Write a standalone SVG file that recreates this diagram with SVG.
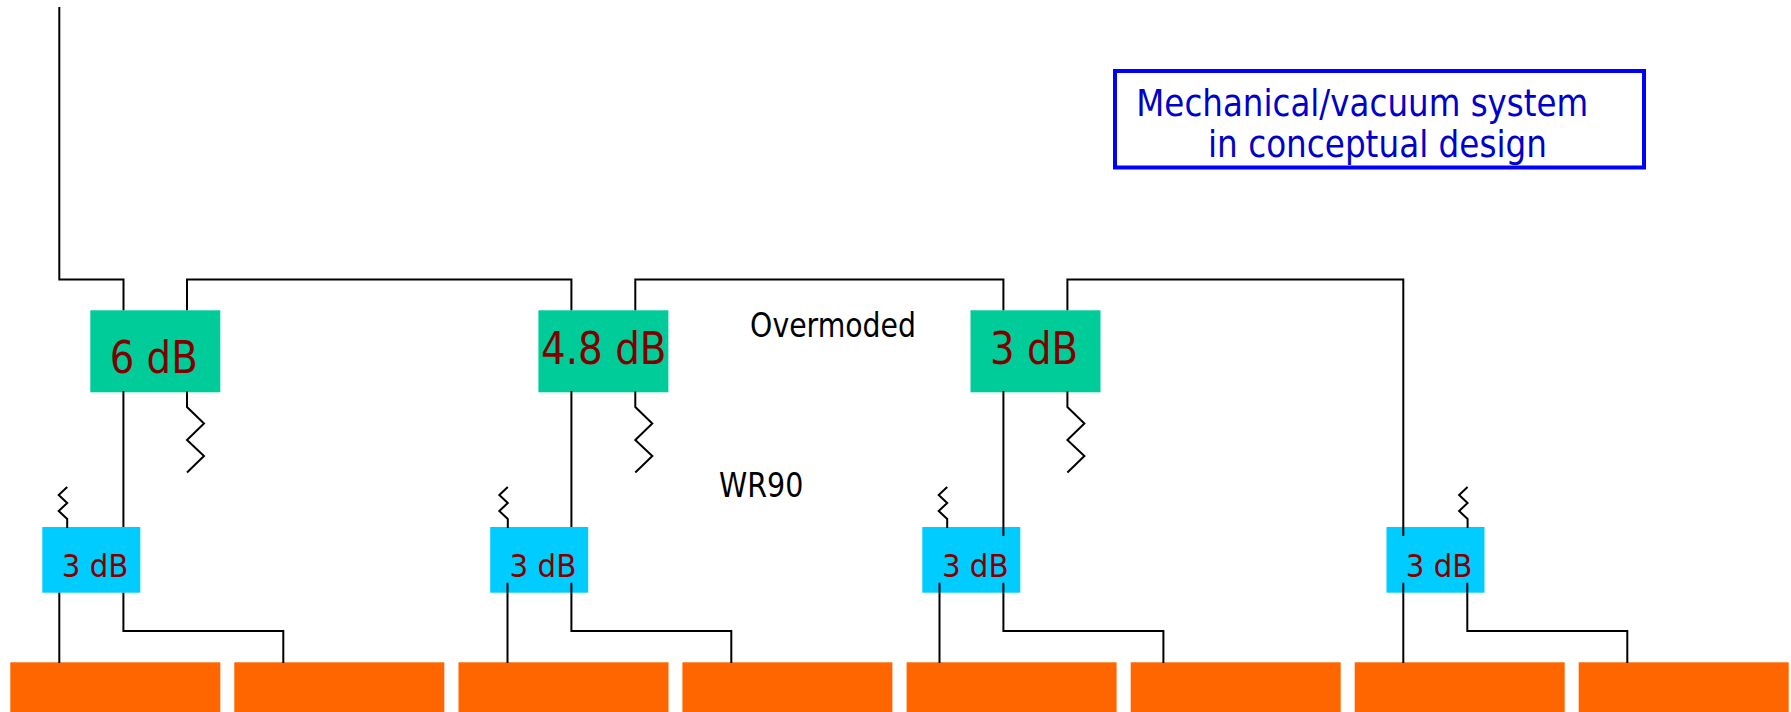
<svg xmlns="http://www.w3.org/2000/svg" width="1791" height="712" viewBox="0 0 1791 712">
<defs>
<style>
text{font-family:"DejaVu Sans","Liberation Sans",sans-serif}
.g{fill:#00cc99}
.b{fill:#00ccff}
.o{fill:#ff6600}
.big{font-size:44.500px;fill:#800000}
.small{font-size:32.500px;fill:#800000}
.lab{font-size:33px;fill:#000}
.note{font-size:37.500px;fill:#0000cc}
.c{fill:none;stroke:#000;stroke-width:2;stroke-linejoin:miter}
</style>
<path id="rl" d="M0 0V15.500L17 32L0 48.500L17 64.500L0 81"/>
<path id="rs" d="M0 0V-9L-8.500 -17L0 -25L-8.500 -33L0 -41"/>
</defs>
<rect width="1791" height="712" fill="#fff"/>
<g id="node-sp1"><rect class="g" x="90.300" y="310.300" width="130" height="82"/><text class="big" x="109.700" y="372.700" textLength="88" lengthAdjust="spacingAndGlyphs">6 dB</text></g>
<g id="node-sp2"><rect class="g" x="538.400" y="310.300" width="130" height="82"/><text class="big" x="541" y="364" textLength="125.500" lengthAdjust="spacingAndGlyphs">4.8 dB</text></g>
<g id="node-sp3"><rect class="g" x="970.500" y="310.300" width="130" height="82"/><text class="big" x="990" y="364" textLength="88" lengthAdjust="spacingAndGlyphs">3 dB</text></g>
<g id="node-h1"><rect class="b" x="42.300" y="527" width="98" height="65.700"/></g>
<g id="node-h2"><rect class="b" x="490.200" y="527" width="98" height="65.700"/></g>
<g id="node-h3"><rect class="b" x="922.300" y="527" width="98" height="65.700"/></g>
<g id="node-h4"><rect class="b" x="1386.500" y="527" width="98" height="65.700"/></g>
<g id="node-l1"><rect class="o" x="10.300" y="662.300" width="210" height="50"/></g>
<g id="node-l2"><rect class="o" x="234.300" y="662.300" width="210" height="50"/></g>
<g id="node-l3"><rect class="o" x="458.500" y="662.300" width="210" height="50"/></g>
<g id="node-l4"><rect class="o" x="682.400" y="662.300" width="210" height="50"/></g>
<g id="node-l5"><rect class="o" x="906.600" y="662.300" width="210" height="50"/></g>
<g id="node-l6"><rect class="o" x="1130.700" y="662.300" width="210" height="50"/></g>
<g id="node-l7"><rect class="o" x="1354.700" y="662.300" width="210" height="50"/></g>
<g id="node-l8"><rect class="o" x="1578.700" y="662.300" width="210" height="50"/></g>
<g id="connectors" class="c">
<path d="M59.300 7V279.500H123.500V310.300"/>
<path d="M187 310.300V279.500H571.400V310.300"/>
<path d="M635.300 310.300V279.500H1003.400V310.300"/>
<path d="M1067.400 310.300V279.500H1403.300V536"/>
<path d="M123.400 391V527"/>
<path d="M571.400 391V527"/>
<path d="M1003.400 391V536"/>
<path d="M59.300 592.700V663"/>
<path d="M123.400 592.700V631H283.300V663"/>
<path d="M507.500 582.700V663"/>
<path d="M571.400 582.700V631H731.300V663"/>
<path d="M939.500 582.700V663"/>
<path d="M1003.400 582.700V631H1163.400V663"/>
<path d="M1403.300 582.700V663"/>
<path d="M1467.300 582.700V631H1627.300V663"/>
<use href="#rl" x="187" y="391.500"/>
<use href="#rl" x="635.300" y="391.500"/>
<use href="#rl" x="1067.400" y="391.500"/>
<use href="#rs" x="67.200" y="528"/>
<use href="#rs" x="507.800" y="528"/>
<use href="#rs" x="947.200" y="528"/>
<use href="#rs" x="1467.600" y="528"/>
</g>
<g id="labels-h">
<text class="small" x="61.800" y="576.700" textLength="66.400" lengthAdjust="spacingAndGlyphs">3 dB</text>
<text class="small" x="509.500" y="576.700" textLength="66.800" lengthAdjust="spacingAndGlyphs">3 dB</text>
<text class="small" x="941.900" y="576.700" textLength="66.600" lengthAdjust="spacingAndGlyphs">3 dB</text>
<text class="small" x="1405.800" y="576.700" textLength="66.400" lengthAdjust="spacingAndGlyphs">3 dB</text>
</g>
<g id="label-overmoded"><text class="lab" x="750.100" y="336.700" textLength="165.900" lengthAdjust="spacingAndGlyphs">Overmoded</text></g>
<g id="label-wr90"><text class="lab" x="719" y="496.700" textLength="84.300" lengthAdjust="spacingAndGlyphs">WR90</text></g>
<g id="note">
<rect x="1115" y="71" width="529" height="96.500" fill="none" stroke="#0000ff" stroke-width="4"/>
<text class="note" x="1136.300" y="115.700" textLength="452" lengthAdjust="spacingAndGlyphs">Mechanical/vacuum system</text>
<text class="note" x="1208" y="156.700" textLength="339" lengthAdjust="spacingAndGlyphs">in conceptual design</text>
</g>
</svg>
